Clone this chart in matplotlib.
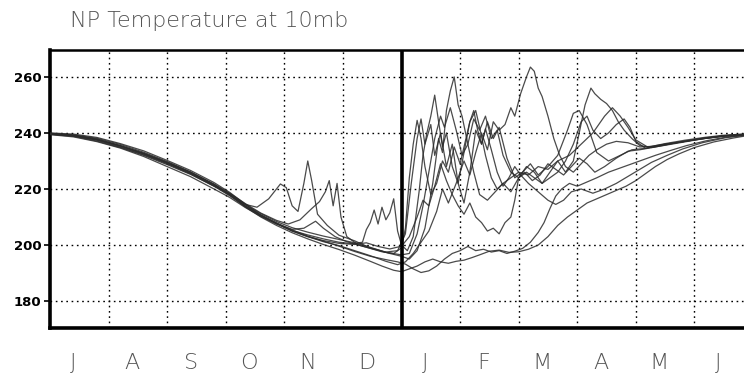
import numpy as np
import matplotlib
matplotlib.use("Agg")
import matplotlib.pyplot as plt

# 10 mb North Pole temperature (K), one curve per winter.
# Time axis: days since 1 July on a 30-day-month calendar (0..360).
MONTHS = ["J", "A", "S", "O", "N", "D", "J", "F", "M", "A", "M", "J"]
Y_TICKS = [180, 200, 220, 240, 260]
TITLE = "NP Temperature at 10mb"

winter_a = [(0, 239.9), (12, 239.3), (24, 237.9), (36, 235.5), (48, 232.6), (60, 229.2), (72, 225.5),
            (84, 221.3), (92, 218.0), (100, 214.5), (106, 213.5), (112, 216.5), (118, 221.8), (121, 220.5),
            (124, 214.0), (127, 212.0), (130, 222.0), (132, 230.0), (134, 223.0), (137, 211.0), (142, 207.0),
            (148, 203.5), (156, 201.5), (164, 199.0), (172, 197.5), (178, 198.0), (182, 204.0), (185, 222.0),
            (188, 238.0), (190, 245.0), (192, 236.0), (195, 243.0), (197, 232.0), (200, 240.0), (203, 228.0),
            (206, 236.0), (209, 222.0), (212, 215.0), (215, 226.0), (218, 241.0), (221, 236.0), (224, 244.0),
            (227, 238.0), (230, 242.0), (234, 231.0), (238, 224.0), (242, 226.0), (246, 229.0), (250, 225.0),
            (255, 228.0), (260, 232.0), (265, 241.0), (268, 247.0), (271, 248.0), (275, 243.0), (280, 233.0),
            (286, 230.0), (292, 232.0), (298, 234.0), (305, 234.5), (315, 236.0), (325, 237.0), (335, 238.0),
            (345, 238.8), (360, 239.6)]

winter_b = [(0, 239.7), (12, 239.0), (24, 237.6), (36, 235.4), (48, 232.8), (60, 229.6), (72, 226.0),
            (84, 221.8), (92, 218.5), (100, 214.8), (108, 211.4), (116, 208.8), (122, 207.5), (128, 209.0),
            (134, 213.0), (138, 215.5), (141, 219.0), (143, 223.0), (145, 214.0), (147, 222.0), (149, 210.0),
            (152, 203.0), (158, 200.0), (166, 198.5), (174, 197.0), (180, 196.0), (184, 195.0), (188, 198.0),
            (192, 206.0), (196, 222.0), (199, 238.0), (201, 233.0), (203, 248.0), (205, 255.0), (207, 260.0),
            (209, 250.0), (211, 246.0), (214, 236.0), (217, 226.0), (220, 218.0), (224, 216.0), (228, 219.0),
            (232, 222.0), (236, 224.0), (240, 226.0), (245, 225.0), (250, 228.0), (255, 227.0), (260, 230.0),
            (266, 232.0), (272, 236.0), (278, 240.0), (284, 246.0), (288, 249.0), (292, 246.0), (296, 242.0),
            (300, 237.5), (306, 235.0), (315, 236.0), (325, 237.0), (335, 238.0), (345, 239.0), (360, 239.8)]

winter_c = [(0, 239.6), (12, 239.0), (24, 237.4), (36, 235.0), (48, 232.2), (60, 229.0), (72, 225.4),
            (84, 221.0), (92, 217.6), (100, 213.8), (108, 210.4), (116, 207.5), (124, 205.2), (132, 203.6),
            (140, 202.2), (148, 201.0), (155, 200.5), (160, 201.0), (162, 205.5), (164, 208.0), (166, 212.5),
            (168, 207.5), (170, 213.5), (172, 209.0), (174, 211.5), (176, 216.5), (178, 205.0), (180, 200.0),
            (183, 198.0), (186, 203.0), (189, 219.0), (191, 232.0), (193, 240.0), (195, 246.0), (197, 253.5),
            (199, 244.0), (201, 235.0), (203, 240.0), (206, 228.0), (209, 222.0), (212, 233.0), (215, 244.0),
            (218, 248.0), (220, 242.0), (223, 232.0), (226, 224.0), (229, 220.0), (232, 222.0), (236, 219.0),
            (240, 224.0), (244, 228.0), (248, 226.0), (252, 222.0), (256, 224.0), (260, 226.0), (264, 230.0),
            (268, 236.0), (272, 244.0), (275, 246.0), (278, 241.0), (282, 238.0), (286, 240.0), (290, 243.0),
            (294, 245.0), (297, 242.0), (300, 237.0), (305, 234.5), (315, 235.8), (325, 237.0), (335, 238.2),
            (345, 239.0), (360, 239.7)]

winter_d = [(0, 240.0), (12, 239.6), (24, 238.4), (36, 236.2), (48, 233.6), (60, 230.2), (72, 226.6),
            (84, 222.3), (92, 218.8), (100, 214.6), (108, 210.6), (116, 207.8), (124, 205.0), (132, 203.0),
            (140, 201.2), (148, 199.8), (156, 198.0), (164, 196.2), (172, 194.2), (178, 193.0), (182, 194.0),
            (186, 197.0), (190, 201.0), (194, 205.0), (198, 212.0), (201, 220.0), (204, 215.0), (208, 222.0),
            (212, 230.0), (215, 225.0), (218, 233.0), (221, 240.0), (224, 234.0), (227, 244.0), (230, 241.0),
            (233, 243.0), (236, 249.0), (238, 246.0), (241, 254.0), (244, 260.0), (246, 263.5), (248, 262.0),
            (250, 256.0), (252, 253.0), (255, 246.0), (258, 238.0), (261, 232.0), (264, 228.0), (268, 226.0),
            (272, 229.0), (276, 232.0), (280, 234.0), (285, 236.0), (290, 237.0), (296, 236.5), (302, 235.0),
            (308, 235.2), (315, 236.2), (325, 237.4), (335, 238.4), (345, 239.2), (360, 239.8)]

winter_e = [(0, 239.5), (12, 238.8), (24, 237.1), (36, 234.8), (48, 232.0), (60, 228.7), (72, 225.2),
            (84, 221.0), (92, 218.4), (100, 214.4), (108, 211.2), (116, 208.4), (124, 206.2), (132, 204.6),
            (140, 203.2), (148, 202.0), (156, 200.8), (164, 199.2), (172, 197.4), (180, 196.5), (184, 197.0),
            (188, 204.0), (191, 214.0), (194, 226.0), (197, 238.0), (200, 246.0), (202, 242.0), (205, 249.0),
            (208, 241.0), (211, 232.0), (214, 236.0), (217, 245.0), (220, 241.0), (223, 246.0), (226, 238.0),
            (229, 241.0), (232, 232.0), (236, 226.0), (240, 224.0), (244, 226.0), (248, 224.0), (252, 222.0),
            (256, 226.0), (260, 230.0), (264, 226.0), (268, 230.0), (271, 240.0), (274, 250.0), (277, 256.0),
            (279, 254.0), (282, 252.0), (285, 250.5), (288, 248.0), (291, 244.0), (294, 241.0), (298, 238.0),
            (302, 235.5), (308, 234.8), (315, 235.6), (325, 236.8), (335, 238.0), (345, 238.9), (360, 239.6)]

winter_f = [(0, 239.8), (12, 239.1), (24, 237.7), (36, 235.3), (48, 232.5), (60, 229.3), (72, 225.7),
            (84, 221.2), (92, 217.8), (100, 213.6), (108, 210.0), (116, 207.0), (124, 204.4), (132, 202.2),
            (140, 200.2), (148, 198.4), (156, 196.4), (164, 194.2), (170, 192.5), (176, 191.0), (180, 190.5),
            (184, 191.5), (188, 192.5), (192, 194.0), (196, 195.0), (200, 194.0), (204, 193.5), (208, 194.2),
            (212, 194.6), (216, 195.5), (220, 196.5), (225, 197.8), (230, 198.2), (235, 197.4), (240, 197.6),
            (245, 198.5), (250, 200.0), (255, 203.0), (260, 207.0), (265, 210.0), (270, 212.5), (275, 215.0),
            (280, 216.5), (285, 218.0), (290, 219.5), (295, 221.0), (300, 223.0), (305, 225.5), (310, 228.0),
            (316, 230.5), (322, 232.5), (330, 234.8), (340, 236.8), (350, 238.2), (360, 239.4)]

winter_g = [(0, 239.6), (12, 239.0), (24, 237.6), (36, 235.4), (48, 232.6), (60, 229.4), (72, 225.9),
            (84, 221.6), (92, 218.0), (100, 214.0), (108, 210.8), (116, 207.9), (124, 205.4), (132, 203.2),
            (140, 201.4), (148, 199.6), (156, 197.7), (164, 196.0), (172, 194.8), (178, 194.0), (182, 193.2),
            (186, 191.5), (190, 190.2), (194, 190.8), (198, 192.5), (202, 195.0), (206, 197.0), (210, 198.0),
            (214, 199.5), (218, 198.0), (222, 198.5), (226, 197.5), (230, 198.0), (234, 197.0), (238, 197.8),
            (242, 198.8), (246, 201.0), (250, 204.5), (253, 208.0), (256, 213.0), (259, 217.5), (262, 220.0),
            (266, 222.0), (270, 221.0), (275, 222.5), (280, 224.0), (286, 226.0), (292, 227.5), (298, 229.0),
            (304, 230.5), (310, 232.0), (318, 233.8), (326, 235.5), (336, 237.2), (346, 238.5), (360, 239.5)]

winter_h = [(0, 239.4), (12, 238.6), (24, 236.9), (36, 234.6), (48, 231.6), (60, 228.0), (72, 224.4),
            (84, 220.0), (92, 217.0), (100, 213.4), (108, 210.2), (116, 207.6), (124, 205.6), (130, 206.0),
            (136, 208.5), (140, 206.0), (146, 203.0), (152, 201.2), (158, 200.0), (164, 198.8), (170, 197.6),
            (176, 197.0), (180, 199.0), (182, 206.0), (184, 224.0), (186, 236.0), (188, 244.5), (190, 238.0),
            (192, 228.0), (195, 218.0), (198, 222.0), (201, 230.0), (204, 226.0), (207, 235.0), (210, 229.0),
            (213, 238.0), (215, 244.0), (217, 248.0), (219, 241.0), (221, 236.0), (223, 241.5), (226, 234.0),
            (229, 226.0), (232, 221.0), (235, 224.0), (238, 228.0), (241, 225.0), (245, 222.0), (250, 219.0),
            (255, 216.0), (259, 214.5), (263, 216.0), (267, 219.0), (272, 220.0), (278, 218.5), (284, 220.0),
            (290, 222.0), (296, 224.5), (302, 227.0), (308, 229.5), (316, 232.0), (324, 234.3), (334, 236.5),
            (346, 238.3), (360, 239.5)]

winter_i = [(0, 239.7), (12, 239.3), (24, 238.1), (36, 235.9), (48, 233.1), (60, 229.8), (72, 226.1),
            (84, 221.6), (92, 218.2), (100, 213.9), (108, 210.6), (116, 207.7), (124, 205.0), (132, 203.0),
            (140, 201.6), (148, 200.6), (156, 200.2), (162, 200.8), (168, 199.5), (174, 198.6), (180, 199.6),
            (184, 203.0), (188, 210.0), (191, 216.0), (194, 214.0), (197, 221.0), (200, 229.0), (203, 223.0),
            (206, 218.0), (209, 214.0), (212, 211.0), (215, 215.0), (218, 210.0), (221, 208.0), (224, 205.0),
            (227, 206.0), (230, 204.0), (233, 208.0), (236, 210.0), (238, 216.0), (240, 224.0), (243, 226.0),
            (247, 223.0), (251, 225.0), (255, 229.0), (259, 227.0), (263, 225.0), (267, 228.0), (271, 231.0),
            (275, 229.0), (279, 226.0), (284, 228.0), (290, 231.0), (296, 233.5), (302, 234.0), (310, 235.0),
            (320, 236.4), (332, 237.8), (345, 238.9), (360, 239.7)]

winters = [winter_a, winter_b, winter_c, winter_d, winter_e, winter_f, winter_g, winter_h, winter_i]

W, H = 744, 385
fig = plt.figure(figsize=(W / 100, H / 100), dpi=100)
fig.patch.set_facecolor("white")

# the plot frame runs slightly past the right edge of the image
ax = fig.add_axes([50 / W, (H - 328) / H, 703 / W, 278 / H])
ax.set_xlim(0, 360)
ax.set_ylim(170.4, 269.6)

for w in winters:
    pts = np.array(w)
    ax.plot(pts[:, 0], pts[:, 1], color="#2b2b2b", lw=0.9, alpha=0.85,
            solid_joinstyle="round", zorder=3)

# dotted grid at month boundaries and every 20 K
for m in range(1, 12):
    if m == 6:
        continue
    ax.axvline(m * 30, color="black", lw=1.0, ls=(0, (1.2, 2.6)), zorder=1)
for yv in Y_TICKS:
    ax.axhline(yv, color="black", lw=1.0, ls=(0, (1.2, 2.6)), zorder=1)

# 1 January
ax.axvline(180, color="black", lw=2.6, zorder=4)

ax.set_yticks(Y_TICKS)
ax.set_yticklabels([str(v) for v in Y_TICKS], fontsize=9.5, fontweight="bold")
ax.tick_params(axis="y", direction="out", length=4, width=1.2, pad=2)

ax.set_xticks([m * 30 + 12 for m in range(12)])
ax.set_xticklabels(MONTHS, fontsize=16, color="#555555", fontweight="light")
ax.tick_params(axis="x", length=0, pad=18)

for side in ("left", "bottom"):
    ax.spines[side].set_linewidth(2.6)
ax.spines["top"].set_linewidth(1.8)
ax.spines["right"].set_visible(False)

fig.text(70 / W, 1 - 27 / H, TITLE, fontsize=16, color="#555555", fontweight="light",
         va="baseline", ha="left")

fig.savefig("out.png", dpi=100)
